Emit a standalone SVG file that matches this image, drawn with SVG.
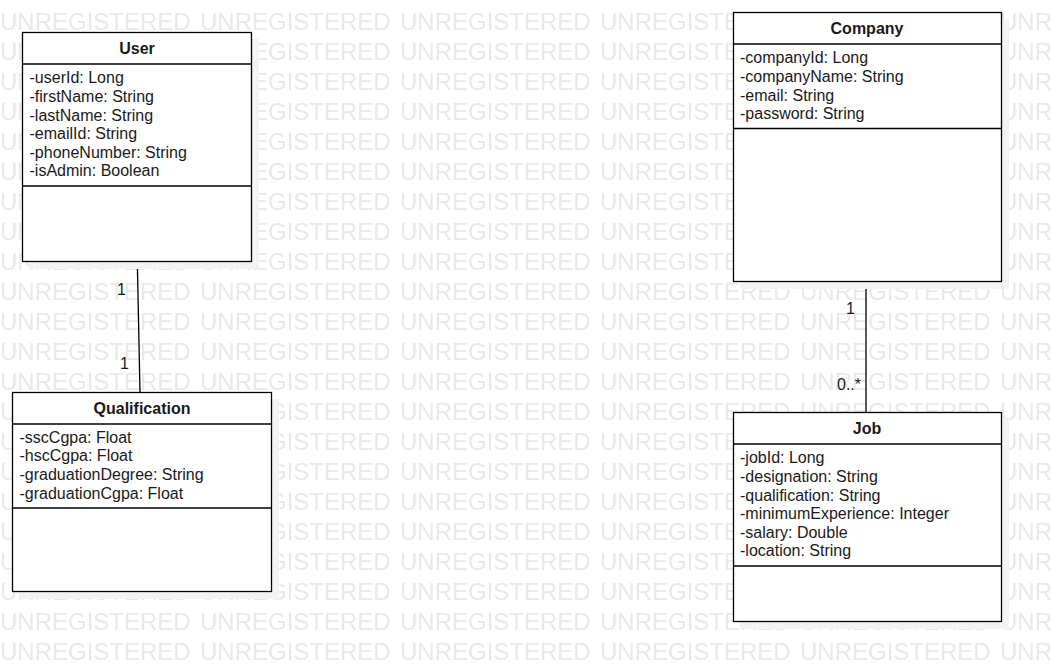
<svg xmlns="http://www.w3.org/2000/svg" width="1051" height="671" viewBox="0 0 1051 671">
<style>
.box{fill:#fff;stroke:#000;stroke-width:1.3}
.shadow{fill:#f3f3f3}
.sep{stroke:#000;stroke-width:1.3}
.title{font-family:"Liberation Sans",Arial,sans-serif;font-size:16px;font-weight:bold;text-anchor:middle;fill:#1a1a1a}
.attr{font-family:"Liberation Sans",Arial,sans-serif;font-size:16px;fill:#1a1a1a}
.lbl{font-family:"Liberation Sans",Arial,sans-serif;font-size:16px;fill:#1a1a1a}
.edge{stroke:#000;stroke-width:1.3;fill:none}
.wm{font-family:"Liberation Sans",Arial,sans-serif;font-size:24px;fill:#e9e9e9}
</style>
<defs>
<pattern id="wmp" x="0" y="0" width="200" height="30" patternUnits="userSpaceOnUse">
<text class="wm" x="0" y="30">UNREGISTERED</text>
</pattern>
</defs>
<rect width="1051" height="671" fill="#fff"/>
<rect id="watermark" width="1051" height="671" fill="url(#wmp)"/>
<g id="connectors">
<line class="edge" x1="137.3" y1="261" x2="140" y2="392"/>
<text class="lbl" x="117" y="295">1</text>
<text class="lbl" x="120" y="369">1</text>
<line class="edge" x1="866" y1="281" x2="866" y2="412"/>
<text class="lbl" x="846" y="314">1</text>
<text class="lbl" x="837" y="390">0..*</text>
</g>
<g id="user">
<rect class="shadow" x="29" y="39" width="230" height="230"/>
<rect class="box" x="22.5" y="32.5" width="229" height="229"/>
<line class="sep" x1="22.5" y1="64" x2="251.5" y2="64"/>
<line class="sep" x1="22.5" y1="186" x2="251.5" y2="186"/>
<text class="title" x="137" y="53.5">User</text>
<text class="attr" x="29.5" y="83.3">-userId: Long</text>
<text class="attr" x="29.5" y="101.9">-firstName: String</text>
<text class="attr" x="29.5" y="120.5">-lastName: String</text>
<text class="attr" x="29.5" y="139.1">-emailId: String</text>
<text class="attr" x="29.5" y="157.7">-phoneNumber: String</text>
<text class="attr" x="29.5" y="176.3">-isAdmin: Boolean</text>
</g>
<g id="qualification">
<rect class="shadow" x="19" y="399" width="260" height="200"/>
<rect class="box" x="12.5" y="392.5" width="259" height="199"/>
<line class="sep" x1="12.5" y1="424" x2="271.5" y2="424"/>
<line class="sep" x1="12.5" y1="508" x2="271.5" y2="508"/>
<text class="title" x="142" y="414">Qualification</text>
<text class="attr" x="19.5" y="442.8">-sscCgpa: Float</text>
<text class="attr" x="19.5" y="461.4">-hscCgpa: Float</text>
<text class="attr" x="19.5" y="480">-graduationDegree: String</text>
<text class="attr" x="19.5" y="498.6">-graduationCgpa: Float</text>
</g>
<g id="company">
<rect class="shadow" x="740" y="19" width="269" height="270"/>
<rect class="box" x="733.5" y="12.5" width="268" height="269"/>
<line class="sep" x1="733.5" y1="44" x2="1001.5" y2="44"/>
<line class="sep" x1="733.5" y1="128.5" x2="1001.5" y2="128.5"/>
<text class="title" x="867" y="34">Company</text>
<text class="attr" x="740" y="63.3">-companyId: Long</text>
<text class="attr" x="740" y="81.9">-companyName: String</text>
<text class="attr" x="740" y="100.5">-email: String</text>
<text class="attr" x="740" y="119.1">-password: String</text>
</g>
<g id="job">
<rect class="shadow" x="740" y="419" width="269" height="210"/>
<rect class="box" x="733.5" y="412.5" width="268" height="209"/>
<line class="sep" x1="733.5" y1="444" x2="1001.5" y2="444"/>
<line class="sep" x1="733.5" y1="566" x2="1001.5" y2="566"/>
<text class="title" x="867" y="434">Job</text>
<text class="attr" x="740" y="463.3">-jobId: Long</text>
<text class="attr" x="740" y="481.9">-designation: String</text>
<text class="attr" x="740" y="500.5">-qualification: String</text>
<text class="attr" x="740" y="519.1">-minimumExperience: Integer</text>
<text class="attr" x="740" y="537.7">-salary: Double</text>
<text class="attr" x="740" y="556.3">-location: String</text>
</g>
</svg>
